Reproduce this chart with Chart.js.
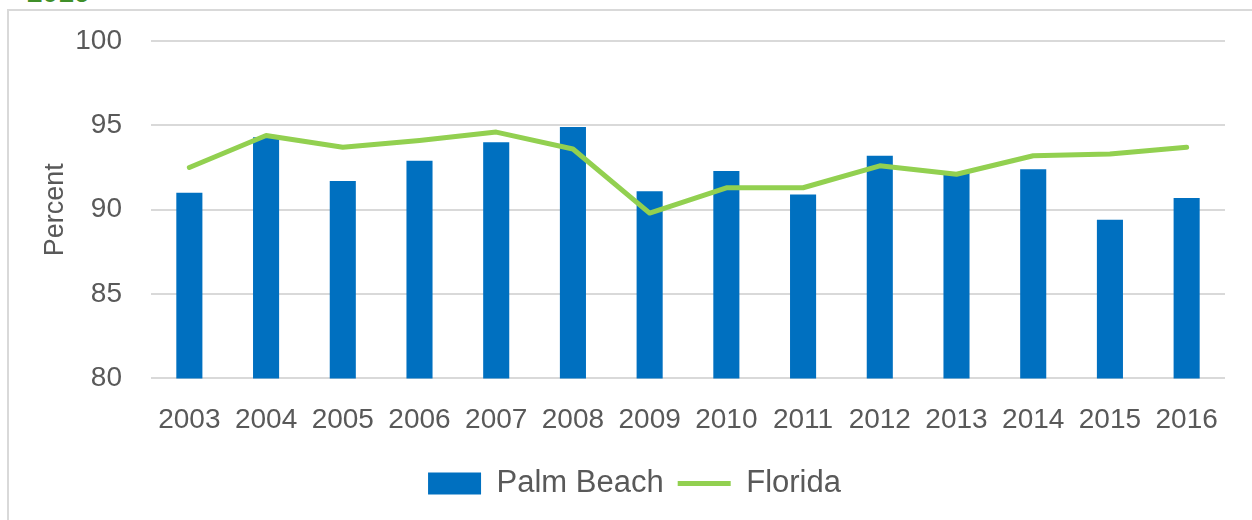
<!DOCTYPE html>
<html>
<head>
<meta charset="utf-8">
<script src="https://cdn.jsdelivr.net/npm/chart.js@4/dist/chart.umd.min.js"></script>
<style>
  html, body { margin: 0; padding: 0; background: #fff; overflow: hidden; }
  #wrap { position: relative; width: 1252px; height: 520px; }
  #frame {
    position: absolute; left: 7px; top: 9px; width: 1300px; height: 560px;
    border-left: 2px solid #d9d9d9; border-top: 2px solid #d9d9d9;
  }
  #title {
    position: absolute; left: 27px; top: -23px;
    font: bold 28px "Liberation Sans", Arial, sans-serif; color: #3f8f29;
  }
  #chart-box { position: absolute; left: 0; top: 0; width: 1252px; height: 520px; }
</style>
</head>
<body>
<div id="wrap">
  <div id="title">2016</div>
  <div id="frame"></div>
  <div id="chart-box"><canvas id="chart"></canvas></div>
</div>
<script>
// tick labels / categories
const years = ['2003', '2004', '2005', '2006', '2007', '2008', '2009',
  '2010', '2011', '2012', '2013', '2014', '2015', '2016'];

// series values (percent)
const palmBeach = [91.0, 94.3, 91.7, 92.9, 94.0, 94.9, 91.1,
  92.3, 90.9, 93.2, 92.2, 92.4, 89.4, 90.7];
const florida = [92.5, 94.4, 93.7, 94.1, 94.6, 93.6, 89.8,
  91.3, 91.3, 92.6, 92.1, 93.2, 93.3, 93.7];

const FONT = "'Liberation Sans', Arial, sans-serif";
const GREY = '#595959';

const ctx = document.getElementById('chart').getContext('2d');

new Chart(ctx, {
  type: 'bar',
  data: {
    labels: years,
    datasets: [
      {
        type: 'bar',
        label: 'Palm Beach',
        data: palmBeach,
        backgroundColor: '#0070c0',
        borderWidth: 0,
        barPercentage: 0.34,
        categoryPercentage: 1,
        pointStyle: 'rect',
        order: 2
      },
      {
        type: 'line',
        label: 'Florida',
        data: florida,
        borderColor: '#92d050',
        backgroundColor: '#92d050',
        borderWidth: 5,
        borderCapStyle: 'round',
        borderJoinStyle: 'round',
        pointRadius: 0,
        pointStyle: 'line',
        tension: 0,
        order: 1
      }
    ]
  },
  options: {
    responsive: true,
    maintainAspectRatio: false,
    animation: false,
    layout: {
      padding: { left: 44, right: 27, top: 41, bottom: 11 }
    },
    scales: {
      x: {
        grid: { display: false },
        border: { display: false },
        ticks: {
          color: GREY,
          font: { family: FONT, size: 28 },
          padding: 17,
          maxRotation: 0,
          autoSkip: false
        }
      },
      y: {
        min: 80,
        max: 100,
        grid: { color: '#d9d9d9', lineWidth: 2, drawTicks: false },
        border: { display: false },
        ticks: {
          stepSize: 5,
          color: GREY,
          font: { family: FONT, size: 28 },
          padding: 29
        },
        title: {
          display: true,
          text: 'Percent',
          color: GREY,
          font: { family: FONT, size: 27 },
          padding: { top: -5, bottom: 0 }
        },
        afterFit: (scale) => {
          scale.width = 107;
          scale.paddingTop = 0;
          scale.paddingBottom = 0;
        }
      }
    },
    plugins: {
      legend: {
        position: 'bottom',
        labels: {
          color: GREY,
          font: { family: FONT, size: 31 },
          usePointStyle: true,
          pointStyleWidth: 53,
          boxHeight: 22,
          padding: 14,
          sort: (a, b) => a.datasetIndex - b.datasetIndex
        }
      },
      tooltip: { enabled: false }
    }
  }
});
</script>
</body>
</html>
